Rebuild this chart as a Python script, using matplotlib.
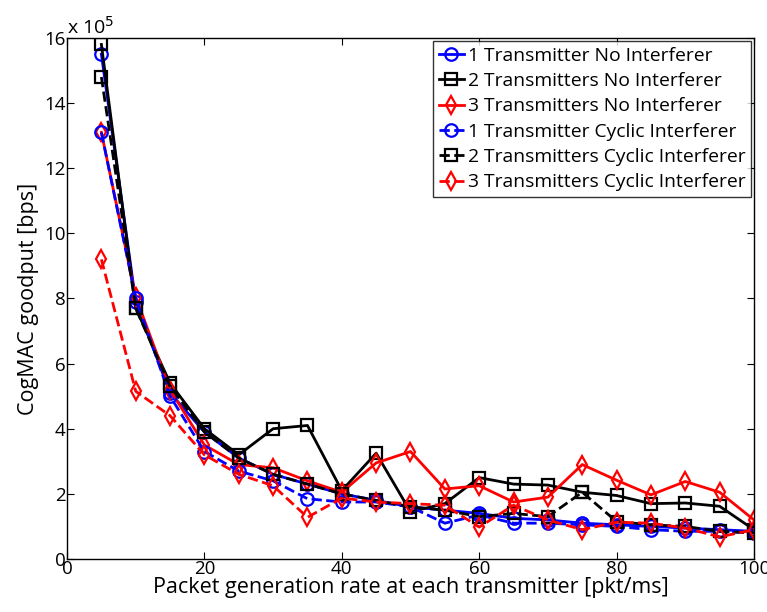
import matplotlib
matplotlib.use("Agg")
import matplotlib.pyplot as plt

plt.rcParams['font.family'] = ['Open Sans', 'DejaVu Sans']

x = [5, 10, 15, 20, 25, 30, 35, 40, 45, 50, 55, 60, 65, 70, 75, 80, 85, 90, 95, 100]

tx1_none = [15.5, 7.9, 5.1, 3.9, 3.1, 2.6, 2.3, 2.0, 1.8, 1.6, 1.5, 1.4, 1.25, 1.2, 1.1, 1.05, 1.0, 0.95, 0.9, 0.85]
tx2_none = [15.8, 7.7, 5.4, 4.0, 3.2, 4.0, 4.1, 2.1, 3.25, 1.45, 1.7, 2.5, 2.3, 2.27, 2.05, 1.95, 1.7, 1.72, 1.62, 0.9]
tx3_none = [13.1, 8.05, 5.2, 3.5, 2.9, 2.8, 2.4, 2.05, 2.95, 3.3, 2.15, 2.25, 1.75, 1.9, 2.9, 2.42, 1.97, 2.38, 2.05, 1.2]
tx1_cyc = [13.1, 8.0, 5.0, 3.3, 2.7, 2.4, 1.85, 1.75, 1.75, 1.6, 1.1, 1.35, 1.1, 1.1, 1.05, 1.0, 0.9, 0.85, 0.85, 0.8]
tx2_cyc = [14.8, 7.7, 5.3, 3.9, 3.1, 2.6, 2.3, 2.0, 1.8, 1.6, 1.5, 1.3, 1.4, 1.3, 2.05, 1.15, 1.05, 1.0, 0.85, 0.8]
tx3_cyc = [9.2, 5.15, 4.4, 3.2, 2.6, 2.25, 1.28, 1.87, 1.75, 1.7, 1.65, 0.98, 1.65, 1.2, 0.9, 1.13, 1.1, 0.95, 0.68, 0.9]

labels = ["1 Transmitter No Interferer", "2 Transmitters No Interferer", "3 Transmitters No Interferer",
          "1 Transmitter Cyclic Interferer", "2 Transmitters Cyclic Interferer", "3 Transmitters Cyclic Interferer"]

fig = plt.figure(figsize=(7.67, 6.12), dpi=100)
ax = fig.add_axes([0.0874, 0.0866, 0.8956, 0.8514])

series = [
    (tx1_none, 'b', 'o', '-'),
    (tx2_none, 'k', 's', '-'),
    (tx3_none, 'r', 'd', '-'),
    (tx1_cyc, 'b', 'o', '--'),
    (tx2_cyc, 'k', 's', '--'),
    (tx3_cyc, 'r', 'd', '--'),
]
for (vals, c, m, ls), lab in zip(series, labels):
    ax.plot(x, vals, color=c, marker=m, linestyle=ls, linewidth=2, markersize=9,
            markerfacecolor='none', markeredgewidth=1.6, label=lab)

ax.set_xlim(0, 100)
ax.set_ylim(0, 16)
ax.set_xticks([0, 20, 40, 60, 80, 100])
ax.set_yticks([0, 2, 4, 6, 8, 10, 12, 14, 16])
ax.tick_params(direction='in', top=True, right=True, labelsize=13.5, length=5, pad=1)
for s in ax.spines.values():
    s.set_linewidth(1.0)
ax.set_xlabel("Packet generation rate at each transmitter [pkt/ms]", fontsize=15.5, labelpad=-1)
ax.set_ylabel("CogMAC goodput [bps]", fontsize=15.5, labelpad=4)
ax.text(0.0, 1.0, r"x 10$^5$", transform=ax.transAxes, fontsize=14, ha='left', va='bottom')

leg = ax.legend(loc='upper right', fontsize=13.9, frameon=True, fancybox=False,
                edgecolor='k', handlelength=1.3, handletextpad=0.2, borderpad=0.3,
                labelspacing=0.38, borderaxespad=0.15)
leg.get_frame().set_linewidth(1.0)

fig.savefig("out.png", dpi=100)
